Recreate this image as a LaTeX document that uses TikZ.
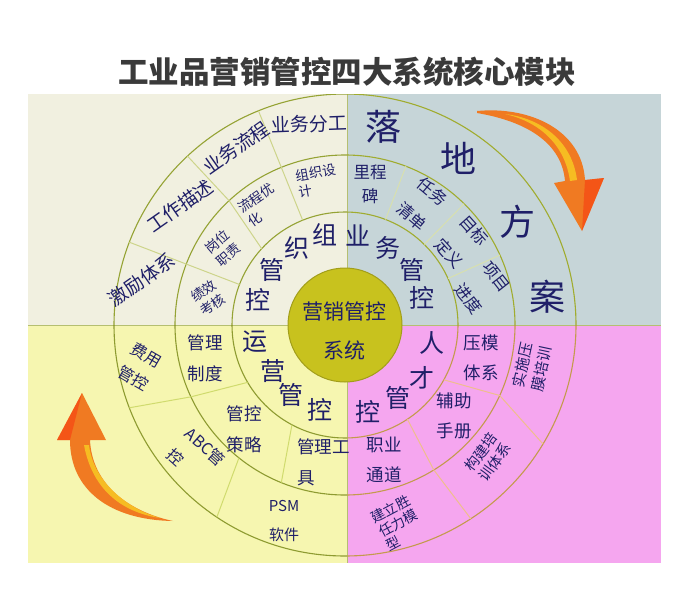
\documentclass[tikz,border=0pt]{standalone}
\usepackage{fontspec}
\newfontfamily\cjk{Noto Sans CJK SC}
\newcommand\myfs[2]{\fontsize{#1}{#2}\selectfont}
\definecolor{qTL}{HTML}{F1F0E0}
\definecolor{qTR}{HTML}{C6D5D8}
\definecolor{qBL}{HTML}{F6F6B0}
\definecolor{qBR}{HTML}{F5A6EF}
\definecolor{arcG}{HTML}{95A334}
\definecolor{arcT}{HTML}{C49A4C}
\definecolor{divTL}{HTML}{CDD48A}
\definecolor{divTR}{HTML}{D8E0AE}
\definecolor{divBL}{HTML}{D0DB6E}
\definecolor{divBR}{HTML}{EFBE8C}
\definecolor{navy}{HTML}{1F1F68}
\definecolor{coreF}{HTML}{C8C21E}
\definecolor{coreD}{HTML}{A29E1A}
\definecolor{ttl}{HTML}{3A3A3A}
\definecolor{arrO}{HTML}{F07A22}
\definecolor{arrY}{HTML}{F8C823}
\tikzset{
  txt/.style={text=navy, inner sep=0pt, align=center},
  big/.style={txt, font=\cjk\myfs{25}{25}},
  huge/.style={txt, font=\cjk\myfs{36}{36}},
  rthree/.style={txt, font=\cjk\myfs{19}{19}},
  tlsmall/.style={txt, align=left, font=\cjk\myfs{13.5}{17}},
  trsmall/.style={txt, font=\cjk\myfs{16.5}{24}},
  blmid/.style={txt, font=\cjk\myfs{17.5}{31}},
  brmid/.style={txt, font=\cjk\myfs{17.5}{30}},
  ringline/.style={line width=1.1pt},
  divline/.style={line width=1pt},
  qline/.style={draw=arcG!70, line width=0.8pt},
}
\begin{document}
\begin{tikzpicture}[x=1pt,y=-1pt]
\useasboundingbox (0,0) rectangle (690,610);
\fill[white] (0,0) rectangle (690,610);
% quadrants
\fill[qTL] (28,94) rectangle (347,325);
\fill[qTR] (347,94) rectangle (661,325);
\fill[qBL] (28,325) rectangle (347,563);
\fill[qBR] (347,325) rectangle (661,563);
\draw[qline] (347,94) -- (347,563);
\draw[qline] (28,325) -- (661,325);
\coordinate (C) at (345,325);
% rings per quadrant
\begin{scope}
  \clip (28,94) rectangle (347,325);
  \foreach \r in {113,170,231} \draw[ringline, arcG] (C) circle[radius=\r pt];
\end{scope}
\begin{scope}
  \clip (347,94) rectangle (661,325);
  \foreach \r in {113,170,231} \draw[ringline, arcG!90!yellow] (C) circle[radius=\r pt];
\end{scope}
\begin{scope}
  \clip (28,325) rectangle (347,563);
  \foreach \r in {113,170,231} \draw[ringline, arcG!95!black] (C) circle[radius=\r pt];
\end{scope}
\begin{scope}
  \clip (347,325) rectangle (661,563);
  \foreach \r in {113,170,231} \draw[ringline, arcT] (C) circle[radius=\r pt];
\end{scope}
% dividers
\begin{scope}[shift={(C)}]
  \draw[divline, divTL] (112:113pt) -- (112:231pt);
  \draw[divline, divTL] (137.5:113pt) -- (133:170pt) -- (133:231pt);
  \draw[divline, divTL] (159:113pt) -- (159:231pt);
  \draw[divline, divTR] (69:113pt) -- (69:170pt);
  \draw[divline, divTR] (45.5:113pt) -- (45.5:170pt);
  \draw[divline, divTR] (24.3:113pt) -- (24.3:170pt);
  \draw[divline, divBL] (210.5:113pt) -- (205:170pt) -- (201:231pt);
  \draw[divline, divBL] (242:113pt) -- (248:170pt);
  \draw[divline, divBL] (231.4:170pt) -- (236.3:231pt);
  \draw[divline, divBR] (-29:113pt) -- (-24.5:170pt) -- (-31:231pt);
  \draw[divline, divBR] (-56.5:113pt) -- (-58.5:170pt) -- (-57:231pt);
\end{scope}
% core
\draw[fill=coreF, draw=coreD, line width=1pt] (C) circle[radius=57pt];
\node[txt, font=\cjk\myfs{21}{39}] (core) at (344,331) {营销管控\\系统};
% title
\node[text=ttl, inner sep=0pt, font=\cjk\bfseries\myfs{30.5}{30.5}] (title) at (347,72) {工业品营销管控四大系统核心模块};
% inner ring characters
\node[big] (a1) at (325,235) {组};
\node[big] (a2) at (297,248) {织};
\node[big] (a3) at (272,270) {管};
\node[big] (a4) at (258,300) {控};
\node[big] (b1) at (358,235) {业};
\node[big] (b2) at (388,248) {务};
\node[big] (b3) at (412,270) {管};
\node[big] (b4) at (422,298) {控};
\node[big] (c1) at (255,342) {运};
\node[big] (c2) at (273,371) {营};
\node[big] (c3) at (291,395) {管};
\node[big] (c4) at (320,410) {控};
\node[big] (d1) at (432,343) {人};
\node[big] (d2) at (422,378) {才};
\node[big] (d3) at (398,398) {管};
\node[big] (d4) at (368,412) {控};
% outer ring top-right
\node[huge] (e1) at (383,127) {落};
\node[huge] (e2) at (458,158) {地};
\node[huge] (e3) at (517,222) {方};
\node[huge] (e4) at (547,297) {案};
% top-left outer ring
\node[rthree, rotate=2] (f1) at (309,124) {业务分工};
\node[rthree, rotate=35] (f2) at (236,148) {业务流程};
\node[rthree, rotate=35] (f3) at (180,206) {工作描述};
\node[rthree, rotate=35] (f4) at (142,280) {激励体系};
% top-left middle ring
\node[tlsmall, rotate=10] (g1) at (317,181) {组织设\\计};
\node[tlsmall, rotate=35] (g2) at (261,205) {流程优\\化};
\node[tlsmall, rotate=40] (g3) at (223,248) {岗位\\职责};
\node[tlsmall, rotate=35] (g4) at (208,298) {绩效\\考核};
% top-right middle ring
\node[trsmall] (h1) at (370,184) {里程\\碑};
\node[trsmall, font=\cjk\myfs{16.5}{32}, rotate=-40] (h2) at (422,204) {任务\\清单};
\node[trsmall, font=\cjk\myfs{16.5}{34}, rotate=-48] (h3) at (462,242) {目标\\定义};
\node[trsmall, font=\cjk\myfs{16.5}{36}, rotate=-52] (h4) at (482,288) {项目\\进度};
% bottom-left
\node[blmid] (i1) at (205,358) {管理\\制度};
\node[blmid] (i2) at (244,429) {管控\\策略};
\node[blmid, align=left, anchor=west] (i3) at (297,462) {管理工\\具};
\node[txt, font=\cjk\myfs{16}{27}, rotate=-30] (j1) at (140,367) {费用\\管控};
\node[txt, align=left, font=\cjk\myfs{16}{28}, rotate=-42] (j2) at (196,457) {ABC管\\控};
\node[txt, font=\cjk\myfs{15}{29}] (j3) at (284,521) {PSM\\软件};
% bottom-right
\node[brmid] (k1) at (481,358) {压模\\体系};
\node[brmid] (k2) at (454,416) {辅助\\手册};
\node[brmid] (k3) at (384,460) {职业\\通道};
\node[txt, font=\cjk\myfs{15}{20}, rotate=78] (l1) at (532,367) {实施压\\膜培训};
\node[txt, font=\cjk\myfs{14.5}{17}, rotate=54] (l2) at (488,457) {构建培\\训体系};
\node[txt, align=left, font=\cjk\myfs{14}{16}, rotate=28] (l3) at (398,523) {建立胜\\任力模\\型};
% arrows
\fill[arrO] (477,111) .. controls (530,106) and (582,130) .. (585,180) -- (604,178) -- (582,231) -- (554,183) -- (565,181) .. controls (562,145) and (530,122) .. (477,113) -- cycle;
\fill[arrY, opacity=0.85] (505,114) .. controls (540,118) and (572,140) .. (577,180) -- (570,181) .. controls (565,145) and (540,122) .. (505,114) -- cycle;
\fill[red!60!arrO, opacity=0.5] (582,231) -- (604,178) -- (585,180) -- cycle;
\fill[arrO] (173,521) .. controls (110,520) and (70,490) .. (70,440) -- (57,440) -- (82,393) -- (106,440) -- (90,440) .. controls (92,485) and (130,512) .. (173,521) -- cycle;
\fill[arrY, opacity=0.85] (160,518) .. controls (120,512) and (92,488) .. (84,445) -- (89,445) .. controls (93,480) and (125,508) .. (160,518) -- cycle;
\fill[red!60!arrO, opacity=0.5] (82,393) -- (57,440) -- (70,440) -- cycle;
\end{tikzpicture}
\end{document}
